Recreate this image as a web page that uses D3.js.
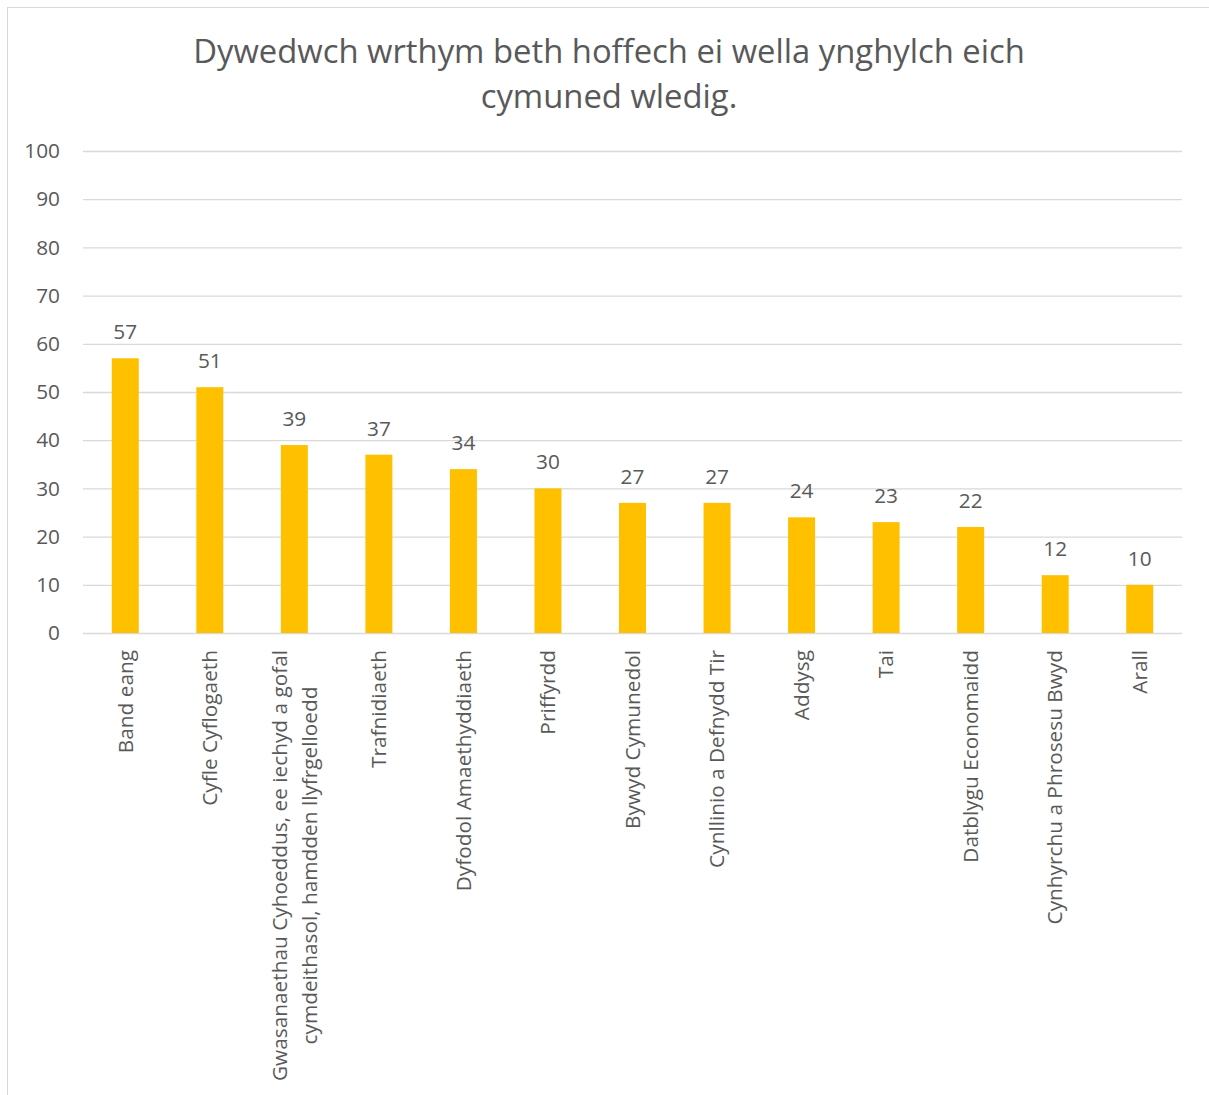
<!DOCTYPE html>
<html><head><meta charset="utf-8">
<script src="https://cdn.jsdelivr.net/npm/d3@7"></script>
<style>body{margin:0;background:#fff}svg{display:block}text{font-family:"Open Sans",sans-serif;fill:#595959}</style>
</head><body>
<svg id="c" width="1209" height="1095"></svg>
<script>
const categories = ["Band eang","Cyfle Cyflogaeth","Gwasanaethau Cyhoeddus, ee iechyd a gofal\ncymdeithasol, hamdden llyfrgelloedd","Trafnidiaeth","Dyfodol Amaethyddiaeth","Priffyrdd","Bywyd Cymunedol","Cynllinio a Defnydd Tir","Addysg","Tai","Datblygu Economaidd","Cynhyrchu a Phrosesu Bwyd","Arall"];
const values = [57,51,39,37,34,30,27,27,24,23,22,12,10];
const yTicks = [0,10,20,30,40,50,60,70,80,90,100];
const titleLines = ["Dywedwch wrthym beth hoffech ei wella ynghylch eich","cymuned wledig."];

const svg = d3.select("#c");
svg.append("rect").attr("x",7.5).attr("y",7.5).attr("width",1220).attr("height",1100)
  .attr("fill","none").attr("stroke","#d9d9d9").attr("stroke-width",1);

const x = d3.scaleBand().domain(categories).range([83,1182]).paddingInner(0.68).paddingOuter(0.34);
const y = d3.scaleLinear().domain([0,100]).range([633,151]);

svg.append("g").selectAll("text").data(titleLines).join("text")
  .attr("x",609).attr("y",(d,i)=>63+i*45).attr("text-anchor","middle")
  .style("font-size","32.8px").text(d=>d);

const yAxis = svg.append("g").attr("transform","translate(83,0)")
  .call(d3.axisLeft(y).tickValues(yTicks).tickSize(-1099).tickPadding(23));
yAxis.select(".domain").remove();
yAxis.selectAll(".tick line").attr("stroke","#d9d9d9").attr("stroke-width",1.3);
yAxis.selectAll(".tick text").style("font-size","20.8px").attr("fill","#595959").style("font-family","'Open Sans',sans-serif");

const bw = 27;
svg.append("g").selectAll("rect").data(values).join("rect")
  .attr("x",(d,i)=>x(categories[i])+x.bandwidth()/2-bw/2).attr("width",bw)
  .attr("y",d=>y(d)).attr("height",d=>y(0)-y(d)).attr("fill","#FFC000");

svg.append("g").selectAll("text").data(values).join("text")
  .attr("x",(d,i)=>x(categories[i])+x.bandwidth()/2).attr("y",d=>y(d)-19)
  .attr("text-anchor","middle").style("font-size","20.8px").text(d=>d);

const lab = svg.append("g");
categories.forEach(c=>{
  const lines = c.split("\n");
  const g = lab.append("g").attr("transform",`translate(${x(c)+x.bandwidth()/2},650) rotate(-90)`);
  const ts = lines.map((l,i)=>g.append("text").style("font-size","20.8px").attr("text-anchor","middle")
    .attr("y",(i-(lines.length-1)/2)*30).attr("dy","0.35em").text(l));
  const maxW = d3.max(ts,t=>t.node().getComputedTextLength());
  ts.forEach(t=>t.attr("x",-maxW/2));
});
</script>
</body></html>
